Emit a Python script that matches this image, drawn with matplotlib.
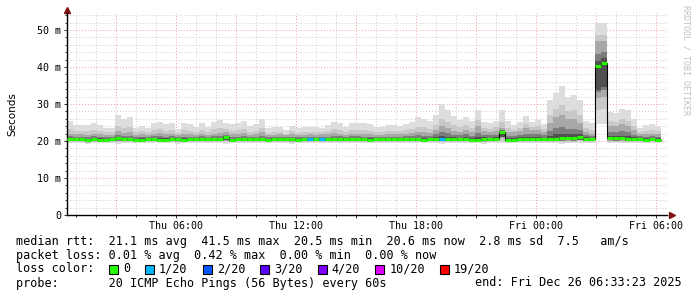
import numpy as np
import matplotlib
matplotlib.use('Agg')
import matplotlib.pyplot as plt
from matplotlib.patches import Rectangle

# time axis in hours since Thu 00:00, data binned every 18 min
t_start = 0.5 + 33 / 60 + 23 / 3600 - 0.5 + 0.0  # Thu 00:33:23
bin_h = 0.3

smoke_max = [25.5, 24.3, 24.2, 24.3, 24.8, 24.3, 23.6, 23.6, 27.0, 25.9,
             26.5, 23.5, 24.0, 23.6, 25.0, 25.2, 24.5, 25.0, 23.2, 24.8,
             24.5, 23.8, 24.8, 23.9, 25.2, 25.7, 25.0, 24.5, 24.8, 25.4,
             24.0, 24.6, 26.0, 23.5, 23.8, 23.9, 22.9, 24.0, 23.4, 23.9,
             23.7, 23.7, 23.5, 24.3, 25.2, 24.8, 23.8, 25.0, 24.9, 24.9,
             24.6, 23.7, 23.9, 24.3, 24.3, 24.1, 24.6, 25.2, 26.5, 26.0,
             25.5, 27.0, 29.9, 28.5, 26.8, 25.8, 26.6, 25.5, 28.5, 25.2,
             24.8, 25.5, 28.4, 25.5, 24.3, 25.2, 26.8, 25.2, 25.8, 24.6,
             31.0, 33.0, 35.0, 31.8, 32.5, 31.0, 25.5, 24.8, 52.0, 52.0,
             27.9, 27.5, 28.6, 28.4, 26.0, 23.6, 24.4, 24.6, 24.0]

smoke_q75 = [22.0, 21.8, 21.8, 21.7, 22.0, 21.8, 21.6, 21.7, 22.6, 22.2,
             22.4, 21.7, 21.8, 21.7, 22.0, 22.2, 21.8, 22.0, 21.6, 21.9,
             21.8, 21.7, 22.0, 21.7, 22.0, 22.2, 22.3, 21.8, 21.9, 22.1,
             21.7, 21.8, 22.3, 21.6, 21.7, 21.8, 21.5, 21.8, 21.6, 21.7,
             21.8, 21.7, 21.8, 21.9, 22.2, 22.0, 21.7, 22.0, 22.0, 21.9,
             21.8, 21.6, 21.7, 21.8, 21.8, 21.8, 22.0, 22.2, 22.5, 22.5,
             22.2, 23.0, 24.0, 23.5, 22.8, 22.5, 23.0, 22.5, 24.0, 22.8,
             22.5, 22.8, 23.5, 22.5, 22.3, 22.8, 23.5, 23.0, 23.0, 22.5,
             25.0, 26.5, 27.0, 26.0, 26.0, 25.0, 22.5, 22.0, 47.0, 47.0,
             24.0, 24.0, 24.5, 24.0, 23.0, 22.0, 22.0, 22.0, 22.0]

smoke_min = [19.5, 19.5, 19.4, 19.3, 19.5, 19.5, 19.5, 19.4, 19.3, 19.5,
             19.4, 19.5, 19.5, 19.5, 19.4, 19.5, 19.5, 19.5, 19.3, 19.5,
             19.5, 19.5, 19.4, 19.5, 19.5, 19.5, 19.3, 19.4, 19.5, 19.5,
             19.5, 19.4, 19.5, 19.5, 19.5, 19.5, 19.5, 19.3, 19.5, 19.5,
             19.4, 19.5, 19.5, 19.5, 19.5, 19.4, 19.5, 19.5, 19.5, 19.5,
             19.5, 19.5, 19.4, 19.5, 19.5, 19.5, 19.5, 19.5, 19.4, 19.5,
             19.4, 19.5, 19.3, 19.5, 19.5, 19.5, 19.4, 19.5, 19.5, 19.3,
             19.5, 19.5, 19.4, 19.4, 19.5, 19.5, 19.4, 19.5, 19.4, 19.5,
             19.4, 19.5, 19.3, 19.5, 19.4, 19.5, 19.5, 19.5, 24.5, 24.5,
             19.5, 19.4, 19.5, 19.5, 19.5, 19.4, 19.5, 19.5, 19.5]

median = [20.6, 20.6, 20.5, 20.3, 20.5, 20.4, 20.4, 20.5, 20.8, 20.6,
          20.5, 20.4, 20.4, 20.5, 20.5, 20.4, 20.4, 20.5, 20.5, 20.4,
          20.5, 20.5, 20.6, 20.5, 20.5, 20.5, 21.1, 20.3, 20.5, 20.5,
          20.6, 20.5, 20.5, 20.4, 20.5, 20.6, 20.5, 20.5, 20.4, 20.5,
          20.5, 20.5, 20.5, 20.5, 20.6, 20.5, 20.5, 20.6, 20.5, 20.5,
          20.4, 20.5, 20.5, 20.5, 20.6, 20.6, 20.5, 20.5, 20.5, 20.4,
          20.5, 20.6, 20.6, 20.6, 20.5, 20.5, 20.6, 20.4, 20.4, 20.5,
          20.5, 20.5, 22.3, 20.4, 20.3, 20.5, 20.5, 20.6, 20.6, 20.5,
          20.6, 20.6, 20.7, 20.7, 20.7, 21.0, 20.6, 20.6, 40.2, 41.2,
          20.7, 20.7, 20.7, 20.6, 20.5, 20.5, 20.4, 20.5, 20.4]

# lost pings out of 20 per bin
loss = [0] * 99
loss[40] = 1
loss[42] = 1
loss[62] = 1

loss_labels = ['0', '1/20', '2/20', '3/20', '4/20', '10/20', '19/20']
loss_levels = [0, 1, 2, 3, 4, 10, 19]
loss_colors = ['#26ff00', '#00b8ff', '#0059ff', '#5e00ff', '#7e00ff', '#dd00ff', '#ff0000']

x_ticks = [6, 12, 18, 24, 30]
x_labels = ['Thu 06:00', 'Thu 12:00', 'Thu 18:00', 'Fri 00:00', 'Fri 06:00']
y_ticks = [0, 10, 20, 30, 40, 50]
y_labels = ['0', '10 m', '20 m', '30 m', '40 m', '50 m']

stats_line = 'median rtt:  21.1 ms avg  41.5 ms max  20.5 ms min  20.6 ms now  2.8 ms sd  7.5   am/s'
loss_line = 'packet loss: 0.01 % avg  0.42 % max  0.00 % min  0.00 % now'
probe_line = 'probe:       20 ICMP Echo Pings (56 Bytes) every 60s'
end_line = 'end: Fri Dec 26 06:33:23 2025'

W, H = 697, 297
fig = plt.figure(figsize=(W / 100, H / 100), dpi=100)
ax = fig.add_axes([67 / W, 1 - 215 / H, 600 / W, 202 / H])

mono = 'DejaVu Sans Mono'
t0 = 33 / 60 + 23 / 3600
edges = t0 + bin_h * np.arange(len(median))
xs = np.append(edges, edges[-1] + bin_h)

mx = np.array(smoke_max)
q75 = np.array(smoke_q75)
mn = np.array(smoke_min)
md = np.array(median)


def band(lo, hi, color):
    ax.fill_between(xs, np.append(lo, lo[-1]), np.append(hi, hi[-1]),
                    step='post', color=color, linewidth=0, zorder=2)


# smoke layers, light outside to dark near the median
band(mn, mx, '#dddddd')
band(md - 0.75 * (md - mn), q75 + 0.35 * (mx - q75), '#c8c8c8')
band(md - 0.55 * (md - mn), q75, '#a8a8a8')
band(md - 0.45 * (md - mn), md + 0.5 * (q75 - md), '#7c7c7c')
band(md - 0.4 * (md - mn), md + 0.2 * (q75 - md), '#505050')

# median line: black steps, then loss coloured segments
ax.step(xs, np.append(md, md[-1]), where='post', color='black', lw=0.8, zorder=3)
seg_colors = [loss_colors[loss_levels.index(v)] for v in loss]
ax.hlines(md, edges, edges + bin_h, colors=seg_colors, lw=2.2, zorder=4)

ax.set_xlim(t0, t0 + 30)
ax.set_ylim(0, 54.6)

ax.set_xticks(np.arange(3, 31, 3))
ax.set_xticklabels([x_labels[x_ticks.index(v)] if v in x_ticks else ''
                    for v in range(3, 31, 3)])
ax.set_xticks(np.arange(1, 31, 1), minor=True)
ax.set_yticks(y_ticks)
ax.set_yticklabels(y_labels)
ax.set_yticks(np.arange(0, 55, 2), minor=True)

ax.grid(which='minor', color='#cccccc', linestyle=(0, (1, 2)), lw=0.7, zorder=1)
ax.grid(which='major', color='#f0a0a0', linestyle=(0, (1, 2)), lw=0.7, zorder=1)
ax.set_axisbelow(True)

ax.tick_params(which='both', direction='out', length=2, width=0.7, colors='#333333',
               labelcolor='black', labelsize=7.2, pad=2)
ax.tick_params(which='minor', length=1.2)
for lab in ax.get_xticklabels() + ax.get_yticklabels():
    lab.set_family(mono)

for s in ['top', 'right']:
    ax.spines[s].set_visible(False)
for s in ['left', 'bottom']:
    ax.spines[s].set_color('black')
    ax.spines[s].set_linewidth(1)

# axis arrows
ax.plot([0], [1.015], marker='^', color='#7f1010', ms=4, transform=ax.transAxes, clip_on=False)
ax.plot([1.008], [0], marker='>', color='#7f1010', ms=4, transform=ax.transAxes, clip_on=False)

ax.set_ylabel('Seconds', fontsize=7.5, labelpad=12)
ax.yaxis.set_label_coords(-0.083, 0.5)

fig.text(686 / W, 1 - 5 / H, 'RRDTOOL / TOBI OETIKER', rotation=-90, fontsize=6,
         family=mono, color='#c0c0c0', ha='center', va='top')

# legend block
fs = 8.5
fig.text(16 / W, 1 - 241 / H, stats_line, family=mono, fontsize=fs, va='center')
fig.text(16 / W, 1 - 255 / H, loss_line, family=mono, fontsize=fs, va='center')
fig.text(16 / W, 1 - 269 / H, 'loss color:', family=mono, fontsize=fs, va='center')
fig.text(16 / W, 1 - 283 / H, probe_line, family=mono, fontsize=fs, va='center')
fig.text(682 / W, 1 - 283 / H, end_line, family=mono, fontsize=fs, va='center', ha='right')

char_w = 7.13
bx = 109
for lab, col in zip(loss_labels, loss_colors):
    fig.patches.append(Rectangle((bx / W, 1 - 273.5 / H), 9 / W, 9 / H, facecolor=col,
                                 edgecolor='black', lw=0.8, transform=fig.transFigure))
    fig.text((bx + 14) / W, 1 - 269 / H, lab, family=mono, fontsize=fs, va='center')
    bx = bx + 14 + len(lab) * char_w + 15

fig.savefig('out.png', dpi=100, facecolor='white')
